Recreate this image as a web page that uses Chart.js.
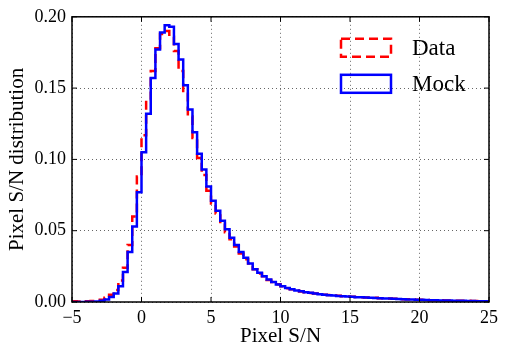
<!DOCTYPE html>
<html>
<head>
<meta charset="utf-8">
<script src="https://cdn.jsdelivr.net/npm/chart.js@4.4.1/dist/chart.umd.min.js"></script>
<style>
  html, body { margin: 0; padding: 0; background: #fff; }
</style>
</head>
<body>
<canvas id="snChart" width="506" height="356"></canvas>
<script>
// histogram bins: left edge of first bin and bin width (S/N units)
const binStart = -5;
const binWidth = 1 / 3;

// bin heights, one per bin from -5 to 25
const dataValues = [
  0.0006, 0.0004, 0.0004, 0.0005, 0.0007, 0.001,
  0.0016, 0.003, 0.005, 0.0085, 0.015, 0.024,
  0.040, 0.060, 0.088, 0.117, 0.142, 0.162,
  0.178, 0.188, 0.190, 0.186, 0.176, 0.162,
  0.146, 0.130, 0.115, 0.101, 0.089, 0.078,
  0.069, 0.062, 0.055, 0.049, 0.044, 0.039,
  0.034, 0.030, 0.027, 0.023, 0.020, 0.018,
  0.0155, 0.014, 0.0124, 0.011, 0.0097, 0.009,
  0.008, 0.0074, 0.0069, 0.0063, 0.0059, 0.0056,
  0.0051, 0.0049, 0.0046, 0.0043, 0.0041, 0.0039,
  0.0036, 0.0035, 0.0033, 0.0032, 0.003, 0.0029,
  0.0027, 0.0026, 0.0025, 0.0023, 0.0022, 0.002,
  0.0019, 0.0017, 0.0016, 0.0015, 0.0014, 0.0013,
  0.0012, 0.0012, 0.0011, 0.001, 0.0009, 0.0009,
  0.0008, 0.0008, 0.0007, 0.0007, 0.0006, 0.0006
];

const mockValues = [
  0, 0, 0, 0.0001, 0.0002, 0.0004,
  0.0008, 0.0018, 0.0035, 0.006, 0.011, 0.021,
  0.035, 0.053, 0.077, 0.105, 0.132, 0.157,
  0.177, 0.189, 0.194, 0.193, 0.181, 0.170,
  0.152, 0.135, 0.119, 0.104, 0.093, 0.081,
  0.071, 0.064, 0.057, 0.051, 0.045, 0.040,
  0.035, 0.031, 0.027, 0.023, 0.0205, 0.018,
  0.0158, 0.014, 0.0123, 0.011, 0.0098, 0.0089,
  0.0081, 0.0075, 0.0069, 0.0064, 0.0059, 0.0055,
  0.0051, 0.0048, 0.0045, 0.0042, 0.004, 0.0038,
  0.0036, 0.0034, 0.0033, 0.0031, 0.003, 0.0028,
  0.0027, 0.0025, 0.0024, 0.0022, 0.0021, 0.002,
  0.0018, 0.0017, 0.0016, 0.0015, 0.0014, 0.0013,
  0.0012, 0.0011, 0.001, 0.001, 0.0009, 0.0008,
  0.0008, 0.0007, 0.0007, 0.0006, 0.0006, 0.0005
];

const seriesLabels = ['Data', 'Mock'];
const xTicks = [-5, 0, 5, 10, 15, 20, 25];
const yTicks = [0, 0.05, 0.10, 0.15, 0.20];

const serif = "'Liberation Serif', 'DejaVu Serif', serif";

// turn bin heights into step points (left edge of each bin + closing edge)
function toSteps(values) {
  const pts = values.map((v, i) => ({ x: binStart + i * binWidth, y: v }));
  pts.push({ x: binStart + values.length * binWidth, y: values[values.length - 1] });
  return pts;
}

// black frame, inward ticks and the boxed legend, matplotlib style
const framePlugin = {
  id: 'frame',
  afterDatasetsDraw(chart) {
    const { ctx, chartArea: a, scales } = chart;
    ctx.save();
    ctx.strokeStyle = '#000';
    ctx.lineWidth = 1;
    ctx.beginPath();
    xTicks.forEach(v => {
      const px = scales.x.getPixelForValue(v);
      ctx.moveTo(px, a.bottom); ctx.lineTo(px, a.bottom - 5);
      ctx.moveTo(px, a.top); ctx.lineTo(px, a.top + 5);
    });
    yTicks.forEach(v => {
      const py = scales.y.getPixelForValue(v);
      ctx.moveTo(a.left, py); ctx.lineTo(a.left + 5, py);
      ctx.moveTo(a.right, py); ctx.lineTo(a.right - 5, py);
    });
    ctx.stroke();

    ctx.lineWidth = 1.5;
    ctx.strokeRect(a.left, a.top, a.right - a.left, a.bottom - a.top);

    // legend
    const boxX = a.right - 148;
    const rows = [a.top + 22, a.top + 58];
    chart.data.datasets.slice().sort((p, q) => seriesLabels.indexOf(p.label) - seriesLabels.indexOf(q.label))
      .forEach((ds, k) => {
        const y = rows[k];
        ctx.strokeStyle = ds.borderColor;
        ctx.lineWidth = ds.borderWidth;
        ctx.setLineDash(ds.borderDash || []);
        ctx.strokeRect(boxX, y, 50, 18);
        ctx.setLineDash([]);
        ctx.fillStyle = '#000';
        ctx.font = '23px ' + serif;
        ctx.textBaseline = 'middle';
        ctx.textAlign = 'left';
        ctx.fillText(ds.label, boxX + 71, y + 10);
      });
    ctx.restore();
  }
};

const ctx = document.getElementById('snChart').getContext('2d');

new Chart(ctx, {
  type: 'line',
  data: {
    datasets: [
      {
        label: seriesLabels[0],
        data: toSteps(dataValues),
        borderColor: '#ff0000',
        borderWidth: 2.5,
        borderDash: [9, 5],
        stepped: 'before',
        pointRadius: 0,
        fill: false,
        order: 1
      },
      {
        label: seriesLabels[1],
        data: toSteps(mockValues),
        borderColor: '#0000ff',
        borderWidth: 2.5,
        stepped: 'before',
        pointRadius: 0,
        fill: false,
        order: 0
      }
    ]
  },
  options: {
    responsive: false,
    animation: false,
    layout: { padding: { left: 0, right: 17, top: 14, bottom: 0 } },
    plugins: {
      legend: { display: false },
      tooltip: { enabled: false }
    },
    scales: {
      x: {
        type: 'linear',
        min: -5,
        max: 25,
        afterBuildTicks: scale => { scale.ticks = xTicks.map(v => ({ value: v })); },
        afterFit: scale => { scale.height = 54; },
        ticks: {
          padding: 5,
          color: '#000',
          font: { family: serif, size: 18 },
          maxRotation: 0,
          callback: v => (v < 0 ? '\u2212' + Math.abs(v) : String(v))
        },
        grid: { color: '#666', lineWidth: 1, drawTicks: false },
        border: { display: false, dash: [1, 3] },
        title: {
          display: true,
          text: 'Pixel S/N',
          color: '#000',
          font: { family: serif, size: 21 },
          padding: { top: 0, bottom: 7 }
        }
      },
      y: {
        min: 0,
        max: 0.2,
        afterBuildTicks: scale => { scale.ticks = yTicks.map(v => ({ value: v })); },
        afterFit: scale => { scale.width = 72; },
        ticks: {
          padding: 6,
          color: '#000',
          font: { family: serif, size: 18 },
          callback: v => v.toFixed(2)
        },
        grid: { color: '#666', lineWidth: 1, drawTicks: false },
        border: { display: false, dash: [1, 3] },
        title: {
          display: true,
          text: 'Pixel S/N distribution',
          color: '#000',
          font: { family: serif, size: 21 },
          padding: { top: 5, bottom: 0 }
        }
      }
    }
  },
  plugins: [framePlugin]
});
</script>
</body>
</html>
